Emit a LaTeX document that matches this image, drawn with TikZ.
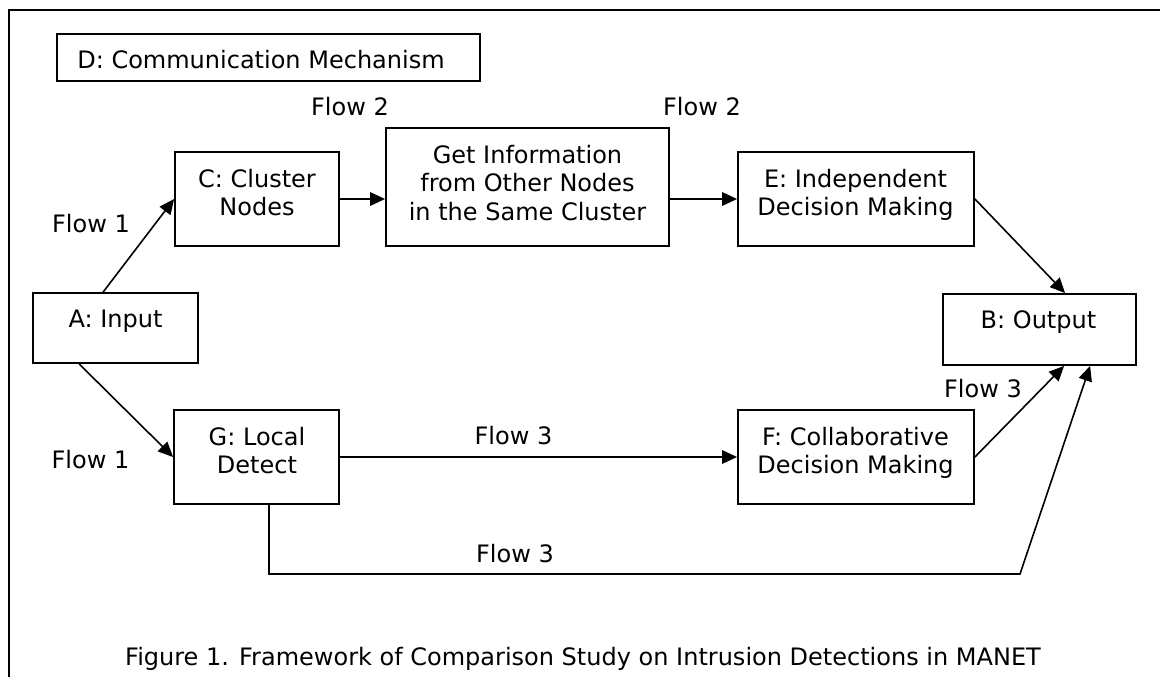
\documentclass[tikz,border=0pt]{standalone}
\usepackage{fontspec}
\setmainfont{DejaVu Sans}
\usetikzlibrary{arrows.meta,calc}
\tikzset{
  box/.style={draw=black, line width=1.8pt, inner sep=0pt, fill=none},
  txt/.style={inner sep=0pt, align=center, font=\fontsize{24}{28.5}\selectfont},
  conn/.style={line width=1.6pt, -{Triangle[length=15pt,width=13.5pt]}},
}
\begin{document}
\begin{tikzpicture}[x=1pt,y=-1pt]
\useasboundingbox (0,0) rectangle (1160,677);
% frame
\draw[line width=2pt] (9,677) -- (9,10) -- (1160,10);
% boxes
\node[box, minimum width=423pt, minimum height=47pt] (D) at (268.5,57.5) {};
\node[box, minimum width=164pt, minimum height=94pt] (C) at (257,199) {};
\node[box, minimum width=283pt, minimum height=118pt] (I) at (527.5,187) {};
\node[box, minimum width=236pt, minimum height=94pt] (E) at (856,199) {};
\node[box, minimum width=193pt, minimum height=71pt] (B) at (1039.5,329.5) {};
\node[box, minimum width=165pt, minimum height=70pt] (A) at (115.5,328) {};
\node[box, minimum width=165pt, minimum height=94pt] (G) at (256.5,457) {};
\node[box, minimum width=236pt, minimum height=94pt] (F) at (856,457) {};
% box texts
\node[txt, anchor=base] (Dt) at (261,69) {D: Communication Mechanism};
\node[txt, anchor=base] (At) at (115.5,327) {A: Input};
\node[txt, anchor=base] (Bt) at (1038.5,328) {B: Output};
\node[txt, anchor=north] (Ct) at (257,168.8) {C: Cluster\\Nodes};
\node[txt, anchor=north] (It) at (527.5,144.8) {Get Information\\from Other Nodes\\in the Same Cluster};
\node[txt, anchor=north] (Et) at (855.5,168.8) {E: Independent\\Decision Making};
\node[txt, anchor=north] (Gt) at (257,426.8) {G: Local\\Detect};
\node[txt, anchor=north] (Ft) at (855.5,426.8) {F: Collaborative\\Decision Making};
% flow labels
\node[txt, anchor=base] (f2a) at (350,115) {Flow 2};
\node[txt, anchor=base] (f2b) at (702,115) {Flow 2};
\node[txt, anchor=base] (f1a) at (91,232) {Flow 1};
\node[txt, anchor=base] (f1b) at (90.5,468) {Flow 1};
\node[txt, anchor=base] (f3a) at (513.5,444) {Flow 3};
\node[txt, anchor=base] (f3b) at (515,562) {Flow 3};
\node[txt, anchor=base] (f3c) at (983,397) {Flow 3};
\node[txt, anchor=base] (cap) at (583,665) {Figure 1. Framework of Comparison Study on Intrusion Detections in MANET};
% connectors
\draw[conn] ([xshift=71pt]A.north west) -- (C.west);
\draw[conn] ([xshift=47pt]A.south west) -- (G.west);
\draw[conn] (C.east) -- (C.east -| I.west);
\draw[conn] (E.west -| I.east) -- (E.west);
\draw[conn] (E.east) -- ([xshift=123pt]B.north west);
\draw[conn] (G.east) -- (F.west);
\draw[conn] (F.east) -- ([xshift=122pt]B.south west);
\coordinate (g1) at (269,574);
\coordinate (g2) at (1020,574);
\draw[conn] ([xshift=12.5pt]G.south) -- (g1) -- (g2) -- ([xshift=148pt]B.south west);
\end{tikzpicture}
\end{document}
